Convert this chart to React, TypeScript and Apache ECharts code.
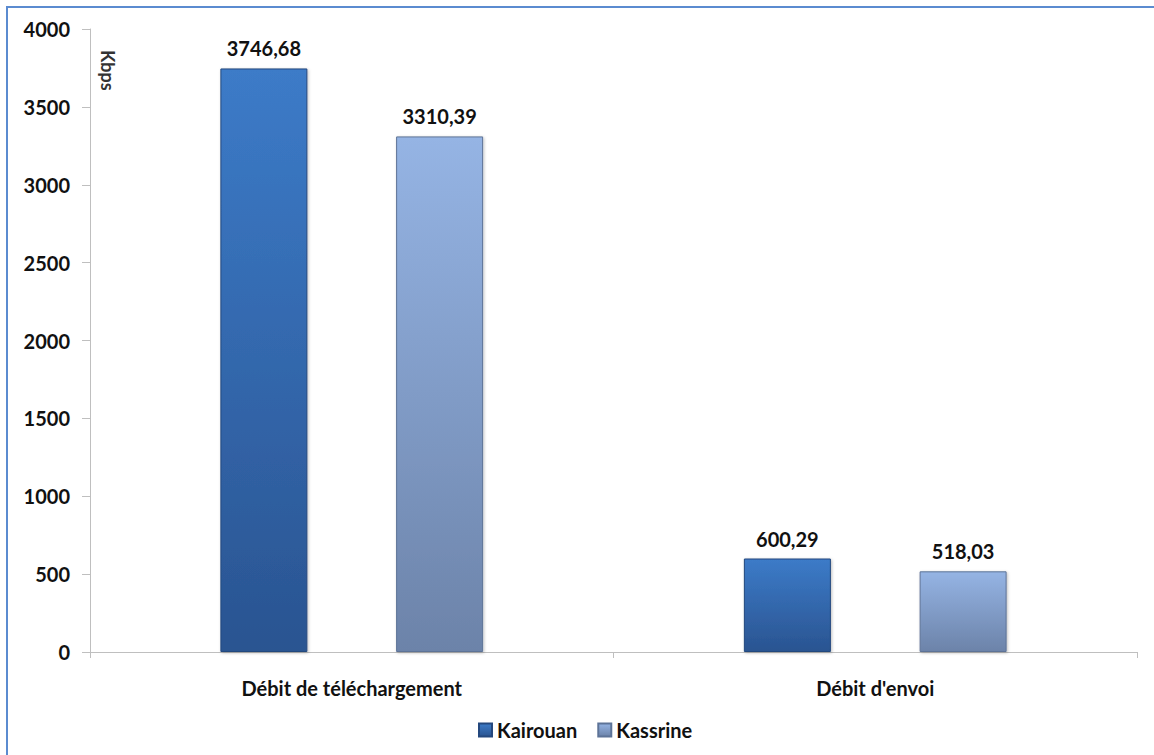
import React, { useEffect, useRef } from "react";
import * as echarts from "echarts";

const categories = ["Débit de téléchargement", "Débit d'envoi"];
const kairouan = [3746.68, 600.29];
const kassrine = [3310.39, 518.03];
const seriesNames = ["Kairouan", "Kassrine"];
const unitLabel = "Kbps";

const fmt = (v: number) => v.toFixed(2).replace(".", ",");

export default function App() {
  const ref = useRef<HTMLDivElement>(null);
  useEffect(() => {
    if (!ref.current) return;
    const chart = echarts.init(ref.current, undefined, { renderer: "svg" });
    const font = "Lato, 'Open Sans', sans-serif";
    const grad = (top: string, bottom: string) =>
      new echarts.graphic.LinearGradient(0, 0, 0, 1, [
        { offset: 0, color: top },
        { offset: 1, color: bottom },
      ]);
    const labelCommon = {
      show: true,
      position: "top",
      distance: 10,
      formatter: (p: any) => fmt(p.value),
      fontFamily: font,
      fontSize: 20,
      fontWeight: "bold",
      color: "#111",
    };
    chart.setOption({
      animation: false,
      backgroundColor: "#ffffff",
      textStyle: { fontFamily: font },
      grid: { left: 90, right: 17, top: 29, bottom: 103, containLabel: false },
      legend: {
        bottom: 10,
        left: 473,
        itemWidth: 13,
        itemHeight: 13,
        itemGap: 20,
        icon: "rect",
        textStyle: { fontFamily: font, fontSize: 20, fontWeight: "bold", color: "#111" },
        data: seriesNames,
      },
      xAxis: {
        type: "category",
        data: categories,
        axisLine: { lineStyle: { color: "#bfbfbf", width: 1 } },
        axisTick: { show: true, alignWithLabel: false, length: 6, lineStyle: { color: "#bfbfbf" } },
        axisLabel: { fontFamily: font, fontSize: 20, fontWeight: "bold", color: "#111", margin: 26 },
      },
      yAxis: {
        type: "value",
        min: 0,
        max: 4000,
        interval: 500,
        splitLine: { show: false },
        axisLine: { show: true, lineStyle: { color: "#bfbfbf", width: 1 } },
        axisTick: { show: true, length: 8, lineStyle: { color: "#bfbfbf" } },
        axisLabel: {
          fontFamily: font,
          fontSize: 20,
          fontWeight: "bold",
          color: "#111",
          margin: 20,
          formatter: (v: number) => String(v),
        },
      },
      graphic: [
        {
          type: "rect",
          shape: { x: 7, y: 7, width: 1200, height: 800 },
          style: { fill: "none", stroke: "#5b8bd0", lineWidth: 2 },
          silent: true,
        },
        {
          type: "text",
          x: 117,
          y: 50,
          rotation: -Math.PI / 2,
          style: {
            text: unitLabel,
            fontFamily: font,
            fontSize: 18,
            fontWeight: "bold",
            fill: "#333",
          },
        },
      ],
      series: [
        {
          name: seriesNames[0],
          type: "bar",
          data: kairouan,
          barWidth: 87,
          barGap: "102%",
          itemStyle: {
            color: grad("#3c7bc8", "#2a5491"),
            borderColor: "#24487e",
            borderWidth: 1,
            shadowColor: "rgba(0,0,0,0.25)",
            shadowBlur: 3,
            shadowOffsetX: 1,
            shadowOffsetY: 1,
          },
          label: labelCommon,
        },
        {
          name: seriesNames[1],
          type: "bar",
          data: kassrine,
          barWidth: 87,
          itemStyle: {
            color: grad("#95b4e4", "#6c83a9"),
            borderColor: "#5d7397",
            borderWidth: 1,
            shadowColor: "rgba(0,0,0,0.25)",
            shadowBlur: 3,
            shadowOffsetX: 1,
            shadowOffsetY: 1,
          },
          label: labelCommon,
        },
      ],
    });
    return () => chart.dispose();
  }, []);
  return (
    <div
      ref={ref}
      style={{ position: "fixed", left: 0, top: 0, width: 1154, height: 755 }}
    />
  );
}
